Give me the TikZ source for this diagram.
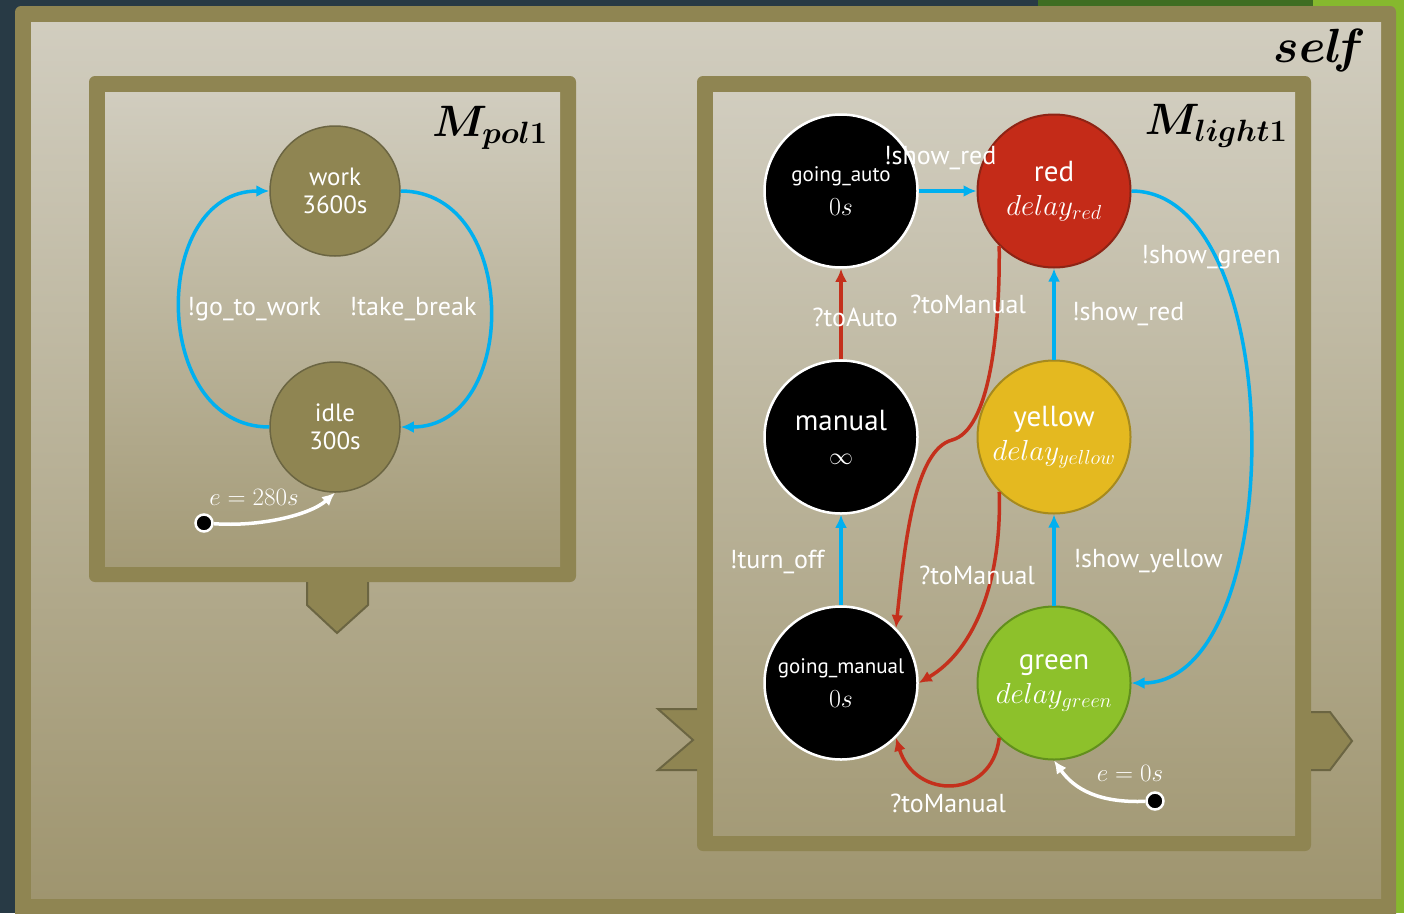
\RequirePackage{fix-cm}
\documentclass[tikz,border=0pt]{standalone}
\usepackage{amsmath}
\usepackage{fontspec}
\setsansfont{PT Sans}
\usepackage{tikz}
\usetikzlibrary{arrows.meta}

\definecolor{slate}{HTML}{283A45}
\definecolor{darkleaf}{HTML}{3F6D22}
\definecolor{lightleaf}{HTML}{86B82E}
\definecolor{olive}{HTML}{8F8552}
\definecolor{olivedark}{HTML}{6B6542}
\definecolor{paneltop}{HTML}{D1CDBF}
\definecolor{panelbot}{HTML}{9F956F}
\definecolor{sendblue}{HTML}{00B0F0}
\definecolor{recvred}{HTML}{C4301C}
\definecolor{redfill}{HTML}{C42B18}
\definecolor{reddraw}{HTML}{8E2415}
\definecolor{yellowfill}{HTML}{E4B920}
\definecolor{yellowdraw}{HTML}{A68A1E}
\definecolor{greenfill}{HTML}{8DC12B}
\definecolor{greendraw}{HTML}{628F1D}

\newcommand{\fsz}[2]{\fontsize{#1}{#2}\selectfont}

\begin{document}
\begin{tikzpicture}[x=1pt, y=-1pt, >={Latex[length=13pt,width=12pt]},
  every node/.style={font=\sffamily},
  boxframe/.style={fill=olive, rounded corners=6pt},
  port/.style={fill=olive},
  portline/.style={draw=olivedark, line width=2pt, line join=miter},
  pstate/.style={circle, draw=olivedark, line width=1.5pt, fill=olive, text=white,
    minimum size=130pt, inner sep=0pt, align=center, font=\sffamily\fsz{25}{28}},
  lstate/.style={circle, line width=2pt, minimum size=153pt, inner sep=0pt,
    text=white, align=center, font=\sffamily\fsz{29}{34}},
  blackstate/.style={lstate, fill=black, draw=white, line width=2.5pt},
  initdot/.style={circle, fill=black, draw=white, line width=2.5pt, minimum size=17pt, inner sep=0pt},
  lbl/.style={text=white, inner sep=1pt, font=\sffamily\fsz{26}{30}},
  mlbl/.style={text=white, inner sep=1pt, font=\fsz{25}{29}},
  title/.style={inner sep=0pt, font=\fsz{44}{48}},
  send/.style={->, draw=sendblue, line width=3.5pt},
  recv/.style={->, draw=recvred, line width=3.5pt},
  initedge/.style={->, draw=white, line width=3.5pt}]

\useasboundingbox (0,0) rectangle (1404,913);

% slide background
\fill[slate] (0,0) rectangle (1404,913);
\fill[darkleaf] (1038,0) rectangle (1404,8);
\fill[lightleaf] (1313,0) rectangle (1404,8);
\fill[lightleaf] (1394,0) rectangle (1404,913);

% self
\fill[boxframe] (15,6) rectangle (1396,940);
\shade[top color=paneltop, bottom color=panelbot] (31,22) rectangle (1381,898);
\node[title, font=\fsz{48}{52}] (self) at (1320,50) {$\boldsymbol{sel\!f}$};

% M_pol1
\fill[boxframe] (89,76) rectangle (576,582);
\shade[top color=paneltop, bottom color=panelbot!90!paneltop] (105,92) rectangle (560,566);
\fill[port] (307,580) -- (368,580) -- (368,605) -- (337,633) -- (307,605) -- cycle;
\draw[portline] (307,582) -- (307,605) -- (337,633) -- (368,605) -- (368,582);
\node[title] (mpol) at (490,128) {$\boldsymbol{M_{pol1}}$};

% M_light1
\fill[boxframe] (697,76) rectangle (1311,851);
\shade[top color=paneltop, bottom color=panelbot!90!paneltop] (713,92) rectangle (1295,835);
\fill[port] (699,709) -- (658,709) -- (693,740) -- (658,770) -- (699,770) -- cycle;
\draw[portline] (697,709) -- (658,709) -- (693,740) -- (658,770) -- (697,770);
\fill[port] (1309,712) -- (1330,712) -- (1352,741) -- (1330,770) -- (1309,770) -- cycle;
\draw[portline] (1311,712) -- (1330,712) -- (1352,741) -- (1330,770) -- (1311,770);
\node[title] (mlight) at (1216,126) {$\boldsymbol{M_{light1}}$};

% pol1 states
\node[pstate] (work) at (335,191) {work\\3600s};
\node[pstate] (idle) at (335,427) {idle\\300s};
\node[initdot] (pinit) at (204,523) {};

% light1 states
\node[blackstate] (gauto) at (841,191) {{\fsz{21}{27}going\_auto}\\{\fsz{26}{30}$0s$}};
\node[lstate, fill=redfill, draw=reddraw] (red) at (1054,191) {red\\$delay_{red}$};
\node[blackstate] (manual) at (841,437) {manual\\{\fsz{24}{28}$\infty$}};
\node[lstate, fill=yellowfill, draw=yellowdraw] (yellow) at (1054,437) {yellow\\$delay_{yellow}$};
\node[blackstate] (gman) at (841,683) {{\fsz{21}{27}going\_manual}\\{\fsz{26}{30}$0s$}};
\node[lstate, fill=greenfill, draw=greendraw] (green) at (1054,683) {green\\$delay_{green}$};
\node[initdot] (linit) at (1155,801) {};

% pol1 edges
\draw[send] (idle.west) .. controls (150,427) and (150,191) .. (work.west);
\draw[send] (work.east) .. controls (520,191) and (520,427) .. (idle.east);
\draw[initedge] (pinit) .. controls (260,527) and (310,515) .. (idle.south);

% light1 edges
\draw[send] (gauto) -- (red);
\draw[recv] (manual) -- (gauto);
\draw[recv] (red.225) .. controls (1000,330) and (990,430) .. (952,440)
  .. controls (915,450) and (905,540) .. (gman.45);
\draw[send] (red.east) .. controls (1290,191) and (1290,683) .. (green.east);
\draw[send] (yellow) -- (red);
\draw[send] (gman) -- (manual);
\draw[recv] (yellow.225) .. controls (1002,580) and (975,650) .. (gman.east);
\draw[send] (green) -- (yellow);
\draw[recv] (green.225) .. controls (992,800) and (915,800) .. (gman.-45);
\draw[initedge] (linit) .. controls (1100,803) and (1075,790) .. (green.south);

% labels
\node[lbl] (lgowork) at (254,309) {!go\_to\_work};
\node[lbl] (lbreak) at (413,309) {!take\_break};
\node[mlbl] (lpinit) at (254,497) {$e=280s$};
\node[lbl] (lshowred) at (940,158) {!show\_red};
\node[lbl] (ltoauto) at (855,317) {?toAuto};
\node[lbl] (ltoman) at (968,304) {?toManual};
\node[lbl] (lshowgreen) at (1211,257) {!show\_green};
\node[lbl] (lshowred2) at (1128,314) {!show\_red};
\node[lbl] (lturnoff) at (777,562) {!turn\_off};
\node[lbl] (ltoman2) at (977,575) {?toManual};
\node[lbl] (lshowyellow) at (1148,561) {!show\_yellow};
\node[lbl] (ltoman3) at (948,803) {?toManual};
\node[mlbl] (llinit) at (1130,773) {$e=0s$};

\end{tikzpicture}
\end{document}
